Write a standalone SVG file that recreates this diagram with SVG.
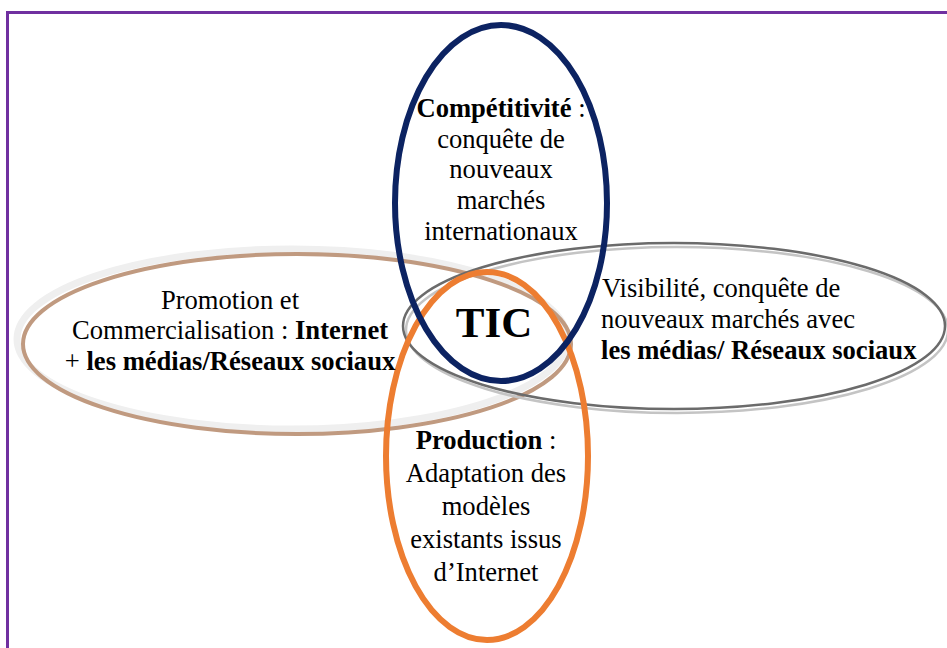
<svg xmlns="http://www.w3.org/2000/svg" width="947" height="648" viewBox="0 0 947 648">
<style>
  text { font-family: "Liberation Serif", "Times New Roman", serif; font-size: 26.6px; fill: #000; }
  .b { font-weight: bold; }
  .c { text-anchor: middle; }
  .ring { fill: none; }
</style>
<rect x="0" y="0" width="947" height="648" fill="#ffffff"/>
<rect x="7.5" y="12.5" width="1000" height="700" fill="none" stroke="#7030a0" stroke-width="3"/>
<g id="node-promotion">
  <ellipse class="ring" cx="292" cy="339" rx="275" ry="90" stroke="#efefef" stroke-width="7"/>
  <ellipse class="ring" cx="297" cy="344" rx="274" ry="90" stroke="#c09a80" stroke-width="4"/>
</g>
<g id="node-visibilite">
  <ellipse class="ring" cx="677" cy="330" rx="271" ry="83" stroke="#c4c4c4" stroke-width="2.5"/>
  <ellipse class="ring" cx="674" cy="326" rx="271" ry="83" stroke="#6b6b6b" stroke-width="2.5"/>
</g>
<g id="node-production">
  <ellipse class="ring" cx="487" cy="456" rx="101" ry="184" stroke="#ed7d31" stroke-width="6"/>
</g>
<g id="node-competitivite">
  <ellipse class="ring" cx="501" cy="203" rx="106" ry="178" stroke="#0c2362" stroke-width="6"/>
</g>
<g id="connectors"></g>
<g id="labels">
  <text class="c" x="230" y="309">Promotion et</text>
  <text class="c" x="230" y="339">Commercialisation : <tspan class="b">Internet</tspan></text>
  <text class="c" x="230" y="370">+ <tspan class="b">les médias/Réseaux sociaux</tspan></text>

  <text class="c" x="501" y="117"><tspan class="b">Compétitivité</tspan> :</text>
  <text class="c" x="501" y="148">conquête de</text>
  <text class="c" x="501" y="178">nouveaux</text>
  <text class="c" x="501" y="209">marchés</text>
  <text class="c" x="501" y="240">internationaux</text>

  <text x="602" y="297">Visibilité, conquête de</text>
  <text x="601" y="328">nouveaux marchés avec</text>
  <text class="b" x="601" y="359">les médias/ Réseaux sociaux</text>

  <text class="c b" x="494" y="337" style="font-size:43px">TIC</text>

  <text class="c" x="486" y="449"><tspan class="b">Production</tspan> :</text>
  <text class="c" x="486" y="482">Adaptation des</text>
  <text class="c" x="486" y="515">modèles</text>
  <text class="c" x="486" y="548">existants issus</text>
  <text class="c" x="486" y="581">d’Internet</text>
</g>
</svg>
